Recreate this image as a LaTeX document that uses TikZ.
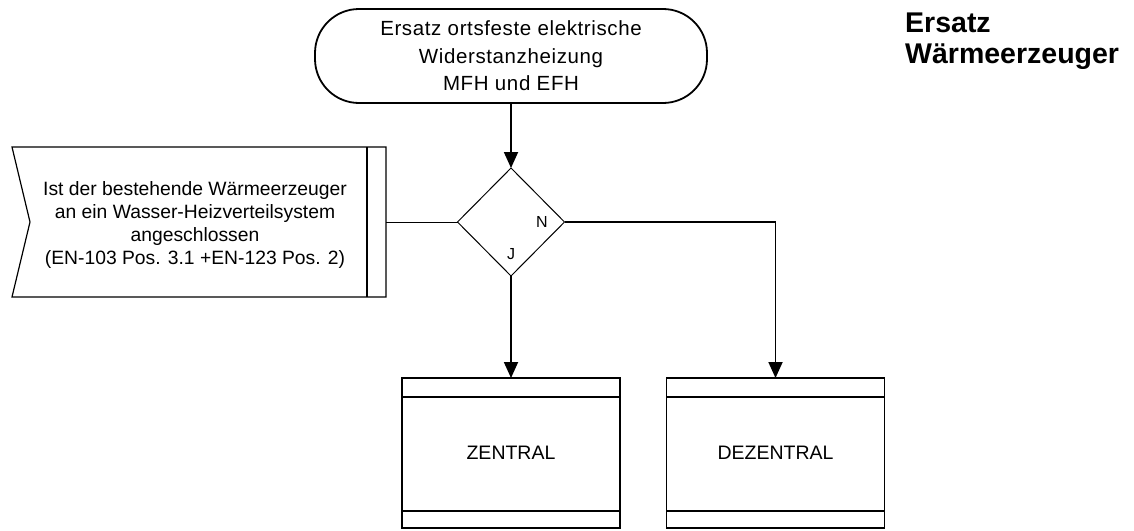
\documentclass[tikz,border=0pt]{standalone}
\usepackage{fontspec}
\setmainfont{Liberation Sans}
\newfontfamily\spacedfont[LetterSpace=3]{Liberation Sans}
\usetikzlibrary{shapes.geometric,arrows.meta}
\tikzset{
  conn/.style={line width=1.8pt},
  arr/.style={line width=1.8pt,-{Triangle[length=16pt,width=14pt]}},
  thinconn/.style={line width=1pt},
  boxed/.style={draw,line width=1.6pt,minimum width=218pt,minimum height=150pt,inner sep=0pt,outer sep=0pt,font=\fontsize{19.5}{23}\selectfont},
  lbl/.style={inner sep=0pt,font=\fontsize{16}{18}\selectfont}
}
\begin{document}
\begin{tikzpicture}[x=1pt,y=-1pt]
\useasboundingbox (0,0) rectangle (1134,530);
% start terminal
\node[draw,line width=1.8pt,rounded corners=44pt,minimum width=392pt,minimum height=94pt,inner sep=0pt,outer sep=0pt,align=center,font=\spacedfont\fontsize{20.5}{27.5}\selectfont] (start) at (511,56)
  {Ersatz ortsfeste elektrische\\Widerstanzheizung\\MFH und EFH};
% decision
\node[draw,diamond,line width=1pt,minimum width=107pt,minimum height=108pt,inner sep=0pt,outer sep=0pt] (dec) at (511,222) {};
\node[lbl] (nlab) at (542,222) {N};
\node[lbl] (jlab) at (511,254) {J};
% callout
\draw[line width=1.2pt] (12,147) -- (386,147) -- (386,297) -- (12,297) -- (30,222) -- cycle;
\draw[line width=1.2pt] (367,147) -- (367,297);
\coordinate (qr) at (386,222);
\node[inner sep=0pt,align=center,font=\fontsize{19.3}{23.3}\selectfont] (q) at (195,225)
  {Ist der bestehende Wärmeerzeuger\\an ein Wasser-Heizverteilsystem\\angeschlossen\\(EN-103 Pos. 3.1 +EN-123 Pos. 2)};
% boxes
\node[boxed] (zen) at (511,453) {ZENTRAL};
\node[boxed] (dez) at (775.5,453) {DEZENTRAL};
\foreach \b in {zen,dez}{
  \draw[line width=1.6pt] ([yshift=-19pt]\b.north west) -- ([yshift=-19pt]\b.north east);
  \draw[line width=1.6pt] ([yshift=17pt]\b.south west) -- ([yshift=17pt]\b.south east);
}
% title
\node[anchor=base west,inner sep=0pt,font=\fontsize{28.5}{31}\selectfont\bfseries] (t1) at (905,32) {Ersatz};
\node[anchor=base west,inner sep=0pt,font=\fontsize{28.5}{31}\selectfont\bfseries] (t2) at (905,63) {Wärmeerzeuger};
% connectors
\draw[arr] (start.south) -- (dec.north);
\draw[thinconn] (qr) -- (dec.west);
\draw[arr] (dec.south) -- (zen.north);
\draw[arr] (dec.east) -| (dez.north);
\end{tikzpicture}
\end{document}
